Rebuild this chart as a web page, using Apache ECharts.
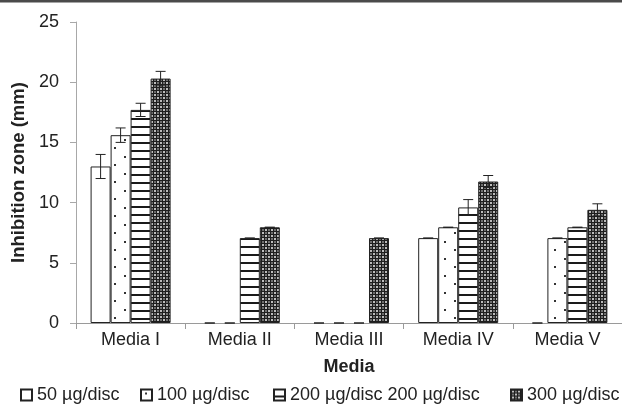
<!DOCTYPE html>
<html>
<head>
<meta charset="utf-8">
<script src="https://cdn.jsdelivr.net/npm/echarts@6/dist/echarts.min.js"></script>
<style>
  html, body { margin: 0; padding: 0; background: #fff; }
  #chart { width: 622px; height: 404px; }
</style>
</head>
<body>
<div id="chart"></div>
<script>
// Inhibition zone diameter by culture medium and extract dose
const categories = ['Media I', 'Media II', 'Media III', 'Media IV', 'Media V'];
const seriesNames = ['50 µg/disc', '100 µg/disc', '200 µg/disc 200 µg/disc', '300 µg/disc'];

const dose50 = [13.0, 0, 0, 7.05, 0];
const dose100 = [15.6, 0, 0, 7.95, 7.05];
const dose200 = [17.7, 7.05, 0, 9.6, 7.95];
const dose300 = [20.3, 7.95, 7.05, 11.75, 9.4];

// standard deviations (caps only where zero)
const err50 = [1.0, 0, 0, 0, 0];
const err100 = [0.6, 0, 0, 0, 0];
const err200 = [0.55, 0, 0, 0.65, 0];
const err300 = [0.6, 0, 0, 0.5, 0.5];

const yTicks = [0, 5, 10, 15, 20, 25];

const values = [dose50, dose100, dose200, dose300];
const errors = [err50, err100, err200, err300];

const FONT = '"Liberation Sans", Arial, Helvetica, sans-serif';
const INK = '#222';
const BAR_W = 20;

function tile(w, h, draw) {
  const c = document.createElement('canvas');
  c.width = w; c.height = h;
  const ctx = c.getContext('2d');
  draw(ctx);
  return { image: c, repeat: 'repeat' };
}

// fills: plain, dotted, horizontal stripes, dark lattice
const fills = [
  '#ffffff',
  tile(20, 17, ctx => {
    ctx.fillStyle = '#fff'; ctx.fillRect(0, 0, 20, 17);
    ctx.fillStyle = '#333';
    ctx.fillRect(4, 3, 2, 2);
    ctx.fillRect(14, 11, 2, 2);
  }),
  tile(4, 8, ctx => {
    ctx.fillStyle = '#fff'; ctx.fillRect(0, 0, 4, 8);
    ctx.fillStyle = '#1a1a1a'; ctx.fillRect(0, 6, 4, 2);
  }),
  tile(6, 6, ctx => {
    ctx.fillStyle = '#1e1e1e'; ctx.fillRect(0, 0, 6, 6);
    ctx.fillStyle = '#bdbdbd';
    ctx.fillRect(1, 1, 2, 2);
    ctx.fillRect(4, 4, 2, 2);
    ctx.fillStyle = '#6e6e6e';
    ctx.fillRect(4, 1, 2, 2);
    ctx.fillRect(1, 4, 2, 2);
  })
];

const barSeries = values.map((vals, si) => ({
  name: seriesNames[si],
  type: 'bar',
  barWidth: BAR_W,
  barGap: '0%',
  itemStyle: { color: fills[si], borderColor: INK, borderWidth: 1 },
  data: vals.map(v => v === 0 ? { value: v, itemStyle: { borderWidth: 0 } } : v),
  z: 2
}));

const errorSeries = values.map((vals, si) => ({
  type: 'custom',
  silent: true,
  z: 5,
  data: vals.map((v, ci) => [ci, v, errors[si][ci]]),
  renderItem: (params, api) => {
    const ci = api.value(0), v = api.value(1), e = api.value(2);
    const hi = api.coord([ci, v + e]);
    const lo = api.coord([ci, v - e]);
    const x = hi[0] + (si - 1.5) * BAR_W;
    const cap = 5;
    const style = { stroke: INK, lineWidth: 1 };
    return {
      type: 'group',
      children: [
        { type: 'line', shape: { x1: x, y1: hi[1], x2: x, y2: lo[1] }, style },
        { type: 'line', shape: { x1: x - cap, y1: hi[1], x2: x + cap, y2: hi[1] }, style },
        { type: 'line', shape: { x1: x - cap, y1: lo[1], x2: x + cap, y2: lo[1] }, style }
      ]
    };
  }
}));

const legendLeft = [20, 140, 273, 510];
const legends = seriesNames.map((n, i) => ({
  data: [n],
  left: legendLeft[i],
  top: 386,
  icon: 'rect',
  itemWidth: 11,
  itemHeight: 11,
  itemGap: 0,
  selectedMode: false,
  textStyle: { fontFamily: FONT, fontSize: 18, color: INK, padding: [0, 0, 0, 0] },
  padding: 0
}));

const chart = echarts.init(document.getElementById('chart'), null, { renderer: 'canvas' });
chart.setOption({
  animation: false,
  backgroundColor: '#fff',
  textStyle: { fontFamily: FONT },
  graphic: [{ type: 'rect', shape: { x: 0, y: 0, width: 622, height: 2.5 }, style: { fill: '#4a4a4a' } }],
  legend: legends,
  grid: { left: 76, top: 22, width: 552, height: 301 },
  xAxis: {
    type: 'category',
    data: categories,
    name: 'Media',
    nameLocation: 'middle',
    nameGap: 35,
    nameTextStyle: { fontFamily: FONT, fontSize: 18, fontWeight: 'bold', color: INK },
    axisLine: { lineStyle: { color: '#9a9a9a', width: 1 } },
    axisTick: { show: true, length: 6, lineStyle: { color: '#9a9a9a' } },
    axisLabel: { interval: 0, fontSize: 18, color: INK, margin: 8, fontFamily: FONT }
  },
  yAxis: {
    type: 'value',
    min: yTicks[0],
    max: yTicks[yTicks.length - 1],
    interval: yTicks[1] - yTicks[0],
    name: 'Inhibition zone (mm)',
    nameLocation: 'middle',
    nameGap: 44,
    nameTextStyle: { fontFamily: FONT, fontSize: 18.5, fontWeight: 'bold', color: INK },
    axisLine: { show: true, lineStyle: { color: '#a8a8a8', width: 1 } },
    axisTick: { show: true, length: 6, lineStyle: { color: '#a8a8a8' } },
    splitLine: { show: false },
    axisLabel: { fontSize: 18, color: INK, margin: 17, fontFamily: FONT }
  },
  series: [...barSeries, ...errorSeries]
});
</script>
</body>
</html>
